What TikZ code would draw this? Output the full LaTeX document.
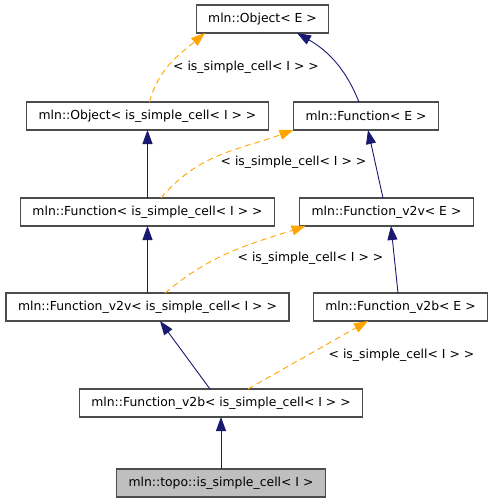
\documentclass[tikz,border=0pt]{standalone}
\usepackage{fontspec}
\setmainfont{DejaVu Sans}
\usetikzlibrary{arrows.meta, positioning}

\definecolor{edgeblue}{HTML}{191970}
\definecolor{tmplorange}{HTML}{FFA500}
\definecolor{leafgray}{HTML}{BFBFBF}

\tikzset{
	cls/.style={draw=black!70, fill=white, line width=1.2pt, minimum height=28pt,
		inner xsep=12pt, inner ysep=0pt, outer sep=0pt},
	leaf/.style={cls, fill=leafgray},
	inh/.style={draw=edgeblue, line width=0.9pt, -{Triangle[width=10pt,length=14pt]}},
	tmpl/.style={draw=tmplorange, line width=0.9pt, dash pattern=on 6pt off 4pt,
		-{Triangle[width=10pt,length=14pt]}},
	lbl/.style={inner sep=0pt}
}

\begin{document}
\begin{tikzpicture}[x=1pt, y=1pt, font=\fontsize{12.4}{14}\selectfont]
	\useasboundingbox (0,0) rectangle (493,-504);
	
	\node[cls] (OE) at (262.5,-19)						{mln::Object< E >};
	\node[cls, below=69pt of OE, xshift=-115pt] (OC)	{mln::Object< is\_simple\_cell< I > >};
	\node[cls, below=69pt of OE, xshift=103.5pt] (FE)	{mln::Function< E >};
	
	\node[cls, below=68pt of OC] (FC) 					{mln::Function< is\_simple\_cell< I > >};
	\node[cls, below=68pt of FE, xshift=20.5pt] (VE) 	{mln::Function\_v2v< E >};
	
	\node[cls, below=67pt of FC] (VC) 					{mln::Function\_v2v< is\_simple\_cell< I > >};
	\node[cls, below=67pt of VE, xshift=14pt] (BE) 		{mln::Function\_v2b< E >};
	
	\node[cls, below=68pt of VC, xshift=73.5pt] (BC) 	{mln::Function\_v2b< is\_simple\_cell< I > >};
	\node[leaf, below=52pt of BC] (T) 					{mln::topo::is\_simple\_cell< I >};
	
	% template arguments
	\node[lbl] (L1) at (246,-67) 	{< is\_simple\_cell< I > >};
	\node[lbl] (L2) at (293.5,-162) {< is\_simple\_cell< I > >};
	\node[lbl] (L3) at (310.5,-258) {< is\_simple\_cell< I > >};
	\node[lbl] (L4) at (401.5,-355) {< is\_simple\_cell< I > >};
	
	\draw[inh] ([xshift=-7pt]FE.north) to[out=112, in=-30] ([xshift=34.5pt]OE.south);
	\draw[tmpl] ([xshift=2pt]OC.north) to[out=75, in=-140] ([xshift=-57.5pt]OE.south);
	\draw[inh] (FC.north) -- (OC.south);
	\draw[tmpl] ([xshift=13.5pt]FC.north) to[out=50, in=-160] (FE.south west);
	\draw[inh] ([xshift=-3.5pt]VE.north) -- ([xshift=2pt]FE.south);
	\draw[inh] (VC.north) -- (FC.south);
	\draw[tmpl] ([xshift=17.5pt]VC.north) to[out=40, in=-162] ([xshift=6pt]VE.south west);
	\draw[inh] ([xshift=-2.5pt]BE.north) -- ([xshift=4.5pt]VE.south);
	\draw[inh] ([xshift=-11pt]BC.north) -- ([xshift=12.5pt]VC.south);
	\draw[tmpl] ([xshift=27pt]BC.north) -- ([xshift=-32.5pt]BE.south);
	\draw[inh] (T.north) -- (BC.south);
\end{tikzpicture}
\end{document}
